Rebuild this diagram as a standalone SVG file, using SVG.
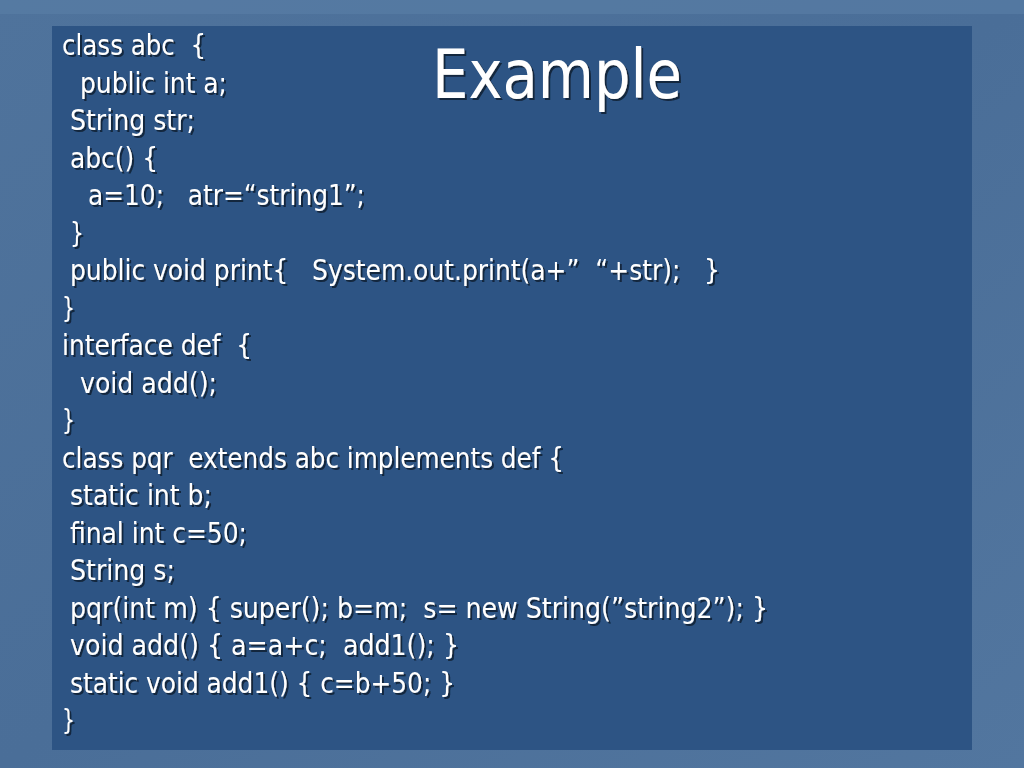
<svg xmlns="http://www.w3.org/2000/svg" width="1024" height="768" viewBox="0 0 1024 768">
<defs>
<style>
.code{font-family:"DejaVu Sans Condensed","DejaVu Sans","Liberation Sans",sans-serif;font-size:28px;fill:#ffffff;white-space:pre;}
.title{font-family:"DejaVu Sans Condensed","DejaVu Sans","Liberation Sans",sans-serif;font-size:68px;fill:#ffffff;}
</style>
<filter id="sh" x="-5%" y="-20%" width="110%" height="140%">
<feDropShadow dx="2" dy="2" stdDeviation="0.6" flood-color="#0b1a33" flood-opacity="0.85"/>
</filter>
<linearGradient id="bg" x1="0" y1="0" x2="1" y2="1">
<stop offset="0" stop-color="#4f739c"/>
<stop offset="0.5" stop-color="#4a6e98"/>
<stop offset="1" stop-color="#52769f"/>
</linearGradient>
</defs>
<rect x="0" y="0" width="1024" height="768" fill="url(#bg)"/>
<rect x="0" y="0" width="1024" height="14" fill="#5a7ea6" opacity="0.6"/>
<rect x="52" y="26" width="920" height="724" fill="#2d5484"/>
<g id="title" filter="url(#sh)">
<text class="title" x="432" y="98" textLength="250" lengthAdjust="spacingAndGlyphs">Example</text>
</g>
<g id="code" filter="url(#sh)">
<text class="code" x="62" y="55" textLength="144" lengthAdjust="spacingAndGlyphs">class abc  {</text>
<text class="code" x="80" y="92.5" textLength="147" lengthAdjust="spacingAndGlyphs">public int a;</text>
<text class="code" x="70" y="130" textLength="125" lengthAdjust="spacingAndGlyphs">String str;</text>
<text class="code" x="70" y="167.5" textLength="88" lengthAdjust="spacingAndGlyphs">abc() {</text>
<text class="code" x="88" y="205" textLength="277" lengthAdjust="spacingAndGlyphs">a=10;   atr=“string1”;</text>
<text class="code" x="70" y="242.5" textLength="14" lengthAdjust="spacingAndGlyphs">}</text>
<text class="code" x="70" y="280" textLength="650" lengthAdjust="spacingAndGlyphs">public void print{   System.out.print(a+”  “+str);   }</text>
<text class="code" x="62" y="317.5" textLength="13" lengthAdjust="spacingAndGlyphs">}</text>
<text class="code" x="62" y="355" textLength="190" lengthAdjust="spacingAndGlyphs">interface def  {</text>
<text class="code" x="80" y="392.5" textLength="137" lengthAdjust="spacingAndGlyphs">void add();</text>
<text class="code" x="62" y="430" textLength="13" lengthAdjust="spacingAndGlyphs">}</text>
<text class="code" x="62" y="467.5" textLength="502" lengthAdjust="spacingAndGlyphs">class pqr  extends abc implements def {</text>
<text class="code" x="70" y="505" textLength="142" lengthAdjust="spacingAndGlyphs">static int b;</text>
<text class="code" x="70" y="542.5" textLength="177" lengthAdjust="spacingAndGlyphs">final int c=50;</text>
<text class="code" x="70" y="580" textLength="105" lengthAdjust="spacingAndGlyphs">String s;</text>
<text class="code" x="70" y="617.5" textLength="698" lengthAdjust="spacingAndGlyphs">pqr(int m) { super(); b=m;  s= new String(”string2”); }</text>
<text class="code" x="70" y="655" textLength="389" lengthAdjust="spacingAndGlyphs">void add() { a=a+c;  add1(); }</text>
<text class="code" x="70" y="692.5" textLength="385" lengthAdjust="spacingAndGlyphs">static void add1() { c=b+50; }</text>
<text class="code" x="62" y="730" textLength="13" lengthAdjust="spacingAndGlyphs">}</text>
</g>
</svg>
